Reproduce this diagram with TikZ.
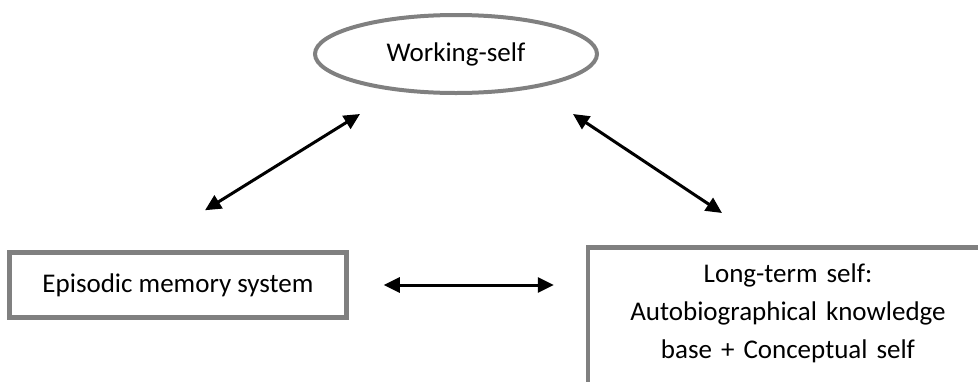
\documentclass[tikz,border=0pt]{standalone}
\usepackage{fontspec}
\setmainfont{Carlito}
\usepackage{xcolor}
\usetikzlibrary{arrows.meta,shapes.geometric}

\definecolor{boxgray}{RGB}{128,128,128}

\begin{document}
\begin{tikzpicture}[x=1pt, y=-1pt,
        every node/.style={font=\fontsize{27}{38}\selectfont},
        box/.style={draw=boxgray, line width=4.5pt, rectangle, inner sep=0pt},
        link/.style={line width=3pt, {Triangle[length=16pt, width=15pt]}-{Triangle[length=16pt, width=15pt]}}]
        \useasboundingbox (0,0) rectangle (978,381);

        % Nodes
        \node[draw=boxgray, line width=4pt, ellipse, minimum width=282, minimum height=78, inner sep=0pt] (ws) at (456,54) {Working-self};
        \node[box, minimum width=337, minimum height=65] (epi) at (178,285) {Episodic memory system};
        \node[box, minimum width=400, align=center, anchor=north, text width=390] (lts) at (788,245)
            {\rule{0pt}{35pt}Long-term self:\\ Autobiographical knowledge\\ base + Conceptual self\rule[-50pt]{0pt}{0pt}};

        % Arrow ends
        \coordinate (a1) at ([shift={(27,-40)}]epi.north);
        \coordinate (a2) at ([shift={(-96,19)}]ws.south);
        \coordinate (b1) at ([shift={(117,19)}]ws.south);
        \coordinate (b2) at ([shift={(-66,-32)}]lts.north);

        % Arrows
        \draw[link] (a1) -- (a2);
        \draw[link] (b1) -- (b2);
        \draw[link, shorten <=35, shorten >=32] (epi.east) -- (epi.east -| lts.west);
\end{tikzpicture}
\end{document}
